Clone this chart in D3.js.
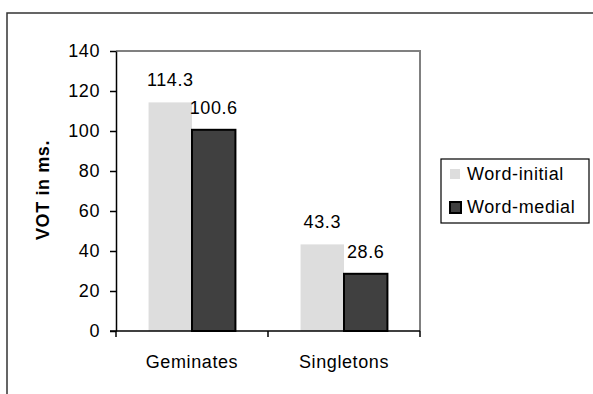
<!DOCTYPE html>
<html>
<head>
<meta charset="utf-8">
<script src="https://cdn.jsdelivr.net/npm/d3@7"></script>
<style>
  body { margin: 0; background: #fff; }
  text { font-family: "Liberation Sans", Arial, sans-serif; }
</style>
</head>
<body>
<div id="chart-area"></div>
<script>
var categories = ["Geminates", "Singletons"];
var seriesNames = ["Word-initial", "Word-medial"];
var wordInitial = [114.3, 43.3];
var wordMedial = [100.6, 28.6];
var yTicks = [0, 20, 40, 60, 80, 100, 120, 140];

var W = 593, H = 394;
var plot = {left: 116, top: 51, right: 420, bottom: 331};
var fills = ["#dddddd", "#404040"];

var svg = d3.select("#chart-area").append("svg")
    .attr("width", W)
    .attr("height", H);

// outer frame (cropped at right and bottom)
svg.append("rect")
    .attr("x", 7).attr("y", 13)
    .attr("width", 590).attr("height", 400)
    .attr("fill", "none")
    .attr("stroke", "#333")
    .attr("stroke-width", 1.5);

var x = d3.scaleBand().domain(categories).range([plot.left, plot.right]);
// Excel-style gap width 150%
var x1 = d3.scaleBand().domain(seriesNames).range([0, x.bandwidth()])
    .paddingOuter(0.75).paddingInner(0);
var y = d3.scaleLinear().domain([0, 140]).range([plot.bottom, plot.top]);

// plot area border (top + right, gray)
svg.append("path")
    .attr("d", "M" + plot.left + "," + plot.top + "H" + plot.right + "V" + plot.bottom)
    .attr("fill", "none")
    .attr("stroke", "#808080")
    .attr("stroke-width", 2);

var data = categories.map((c, i) => ({cat: c, vals: [wordInitial[i], wordMedial[i]]}));

var groups = svg.selectAll("g.cat").data(data).enter().append("g")
    .attr("class", "cat")
    .attr("transform", (d) => "translate(" + x(d.cat) + ",0)");

groups.selectAll("rect").data((d) => d.vals.map((v, j) => ({s: seriesNames[j], v: v, j: j})))
    .enter().append("rect")
    .attr("x", (d) => x1(d.s))
    .attr("y", (d) => y(d.v))
    .attr("width", x1.bandwidth())
    .attr("height", (d) => y(0) - y(d.v))
    .attr("fill", (d) => fills[d.j])
    .attr("stroke", (d) => d.j == 1 ? "#000" : "none")
    .attr("stroke-width", 2);

groups.selectAll("text.lbl").data((d) => d.vals.map((v, j) => ({s: seriesNames[j], v: v})))
    .enter().append("text")
    .attr("class", "lbl")
    .attr("x", (d) => x1(d.s) + x1.bandwidth() / 2)
    .attr("y", (d) => y(d.v) - 16)
    .attr("text-anchor", "middle")
    .attr("font-size", 18)
    .attr("letter-spacing", 0.6)
    .text((d) => d.v.toFixed(1));

// y axis
var yAxis = svg.append("g")
    .attr("transform", "translate(" + plot.left + ",0)")
    .call(d3.axisLeft(y).tickValues(yTicks).tickSize(6).tickSizeOuter(0).tickPadding(10));
yAxis.select(".domain").attr("stroke", "#000").attr("stroke-width", 1.5);
yAxis.selectAll(".tick line").attr("stroke", "#000").attr("stroke-width", 1.5);
yAxis.selectAll(".tick text")
    .attr("font-size", 18)
    .attr("letter-spacing", 0.6)
    .attr("fill", "#000")
    .style("font-family", "'Liberation Sans', Arial, sans-serif");

// x axis: line + ticks between categories
var xTicks = categories.map((c) => x(c)).concat([plot.right]);
svg.append("line")
    .attr("x1", plot.left - 6).attr("x2", plot.right)
    .attr("y1", plot.bottom).attr("y2", plot.bottom)
    .attr("stroke", "#000").attr("stroke-width", 1.5);
svg.selectAll("line.xtick").data(xTicks).enter().append("line")
    .attr("class", "xtick")
    .attr("x1", (d) => d).attr("x2", (d) => d)
    .attr("y1", plot.bottom).attr("y2", plot.bottom + 6)
    .attr("stroke", "#000").attr("stroke-width", 1.5);
svg.selectAll("text.xlab").data(categories).enter().append("text")
    .attr("class", "xlab")
    .attr("x", (d) => x(d) + x.bandwidth() / 2)
    .attr("y", 368)
    .attr("text-anchor", "middle")
    .attr("font-size", 18)
    .attr("letter-spacing", 0.6)
    .text((d) => d);

// y title
svg.append("text")
    .attr("transform", "translate(49,190) rotate(-90)")
    .attr("text-anchor", "middle")
    .attr("font-size", 18)
    .attr("font-weight", "bold")
    .attr("letter-spacing", 0.6)
    .text("VOT in ms.");

// legend
var legend = svg.append("g").attr("transform", "translate(441,159)");
legend.append("rect")
    .attr("width", 148).attr("height", 64)
    .attr("fill", "#fff").attr("stroke", "#000").attr("stroke-width", 1.2);
var items = legend.selectAll("g.item").data(seriesNames).enter().append("g")
    .attr("class", "item")
    .attr("transform", (d, i) => "translate(0," + (15 + i * 33) + ")");
items.append("rect")
    .attr("x", (d, i) => i == 1 ? 9 : 9)
    .attr("y", -5)
    .attr("width", (d, i) => i == 1 ? 11 : 10)
    .attr("height", (d, i) => i == 1 ? 11 : 10)
    .attr("fill", (d, i) => fills[i])
    .attr("stroke", (d, i) => i == 1 ? "#000" : "none")
    .attr("stroke-width", 2);
items.append("text")
    .attr("x", 26)
    .attr("y", 6)
    .attr("font-size", 18)
    .attr("letter-spacing", 0.6)
    .text((d) => d);
</script>
</body>
</html>
